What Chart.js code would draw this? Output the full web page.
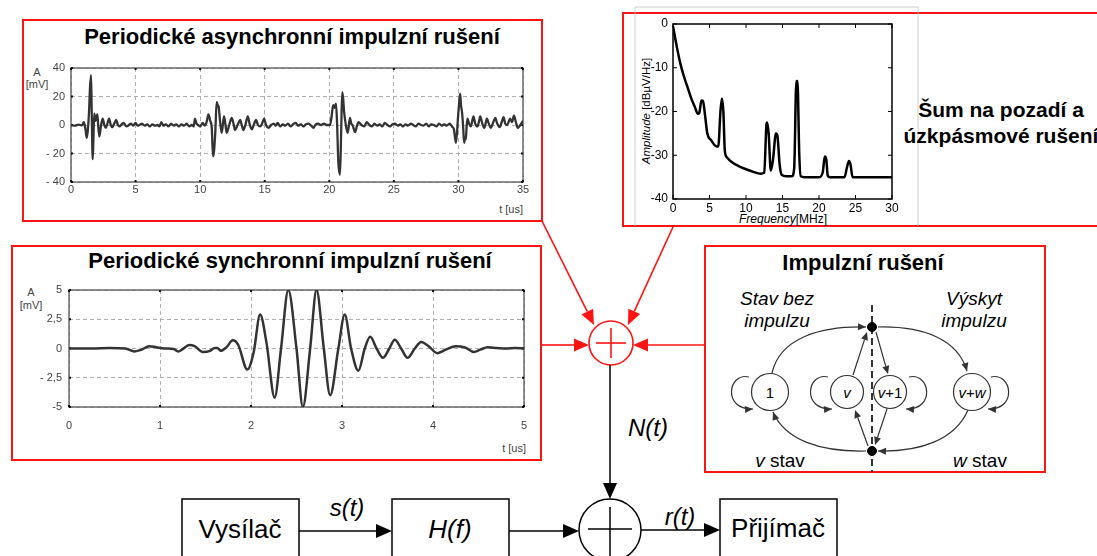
<!DOCTYPE html>
<html>
<head>
<meta charset="utf-8">
<title>Model rušení</title>
<script src="https://cdn.jsdelivr.net/npm/chart.js"></script>
<style>
  body { margin: 0; width: 1097px; height: 556px; overflow: hidden; background: #fff; position: relative;
         font-family: "Liberation Sans", Arial, sans-serif; }
  svg, canvas { position: absolute; }
</style>
</head>
<body>
<svg id="diagram" width="1097" height="556" style="left:0;top:0"></svg>
<canvas id="asyncChart" width="512" height="155" style="left:21px;top:60px"></canvas>
<canvas id="syncChart" width="522" height="165" style="left:12px;top:282px"></canvas>
<canvas id="specChart" width="275" height="214" style="left:625px;top:12px"></canvas>

<script>
  // ---- data ----
  // periodic asynchronous impulse noise: [t us, A mV]
  const asyncXTicks = [0, 5, 10, 15, 20, 25, 30, 35];
  const asyncXLabels = ['0', '5', '10', '15', '20', '25', '30', '35'];
  const asyncYTicks = [-40, -20, 0, 20, 40];
  const asyncYLabels = ['- 40', '- 20', '0', '20', '40'];
  const asyncPulse = [
    [0,0],[0.3,-0.5],[0.6,0.3],[0.85,-0.3],[1.0,2],[1.12,-3],[1.22,-9],[1.3,-4],[1.4,10],[1.47,26],
    [1.55,35],[1.6,12],[1.68,-24],[1.73,-12],[1.8,8],[1.9,3],[2.04,7.5],[2.12,-2],[2.2,-8],[2.3,-2],
    [2.45,4.5],[2.58,0],[2.7,-2],[2.82,1],[2.95,4.5],[3.08,0],[3.2,-1.5],[3.35,1],[3.5,3.5],[3.63,0],
    [3.76,-1],[3.92,0.5],[4.07,1.5],[4.2,0],[4.3,-1],[4.48,0],[4.65,1],[4.82,-0.5],[5.0,1.5],[5.15,-0.5],
    [5.3,0],[5.5,1],[5.7,-0.5],[5.9,0.5],[6.1,-1],[6.3,0.5],[6.5,-0.5],[6.7,0],[6.85,-1],[7.0,2],
    [7.15,-0.5],[7.35,0.5],[7.55,-1],[7.75,1],[7.95,-0.5],[8.15,0.5],[8.35,-1],[8.55,0.5],[8.75,-0.5],[8.95,1],
    [9.15,-1],[9.35,0],[9.5,-1],[9.6,4.5],[9.72,1],[9.85,0],[10.0,-1],[10.2,1.5],[10.35,-0.5],[10.5,2],
    [10.64,7.5],[10.78,3],[10.9,-2],[11.0,-22],[11.08,-18],[11.18,-4],[11.28,16],[11.36,14],[11.44,12.5],[11.55,2],
    [11.67,-5.5],[11.77,1],[11.85,6],[11.95,1],[12.06,-5.5],[12.25,0],[12.45,5],[12.58,1],[12.7,-3.5],[12.9,0],
    [13.1,3.5],[13.22,0],[13.35,-3.5],[13.5,0],[13.69,6],[13.85,0],[14.0,-3],[14.15,0],[14.33,3.5],[14.48,0],
    [14.64,-1],[14.8,1],[14.95,4.5],[15.1,0],[15.3,-2],[15.5,0],[15.7,1],[15.85,-0.5],[16.0,1.5],[16.2,-1],
    [16.4,0.5],[16.6,-0.5],[16.8,1],[17.0,-1],[17.2,0.5],[17.4,1.5],[17.6,-0.5],[17.8,0.5],[18.0,-1],[18.2,0.5],
    [18.4,1],[18.6,-0.5],[18.77,-2],[18.95,0.5],[19.15,1],[19.35,0],[19.6,1],[19.8,0],[20.06,0],[20.18,6],
    [20.3,14],[20.42,12],[20.52,15],[20.6,2],[20.7,-26],[20.83,-35],[20.92,-5],[21.0,23],[21.08,18],[21.14,10],
    [21.3,-1],[21.43,-5.5],[21.6,5],[21.7,1],[21.8,0],[22.0,-5],[22.13,-1],[22.26,2],[22.5,0],[22.7,-1],
    [22.9,2],[23.1,0],[23.3,-1],[23.5,1],[23.7,-0.5],[23.9,0.5],[24.1,-1],[24.3,1.5],[24.5,0],[24.7,-1],
    [24.9,0.5],[25.1,1],[25.3,-0.5],[25.5,0.5],[25.7,-1],[25.9,0.5],[26.1,-0.5],[26.3,1],[26.5,0],[26.7,-1],
    [26.9,1],[27.1,0],[27.3,-0.5],[27.5,1],[27.7,-1],[27.9,0.5],[28.1,0],[28.3,-1],[28.5,1],[28.7,-0.5],
    [28.9,0.5],[29.1,-0.5],[29.3,1],[29.5,-1],[29.65,-3],[29.8,-12.5],[29.9,-4],[29.95,3],[30.05,15],[30.13,22],
    [30.2,14],[30.29,8],[30.37,-2],[30.44,-12.5],[30.5,-9],[30.57,-10],[30.63,-2],[30.7,4.5],[30.82,1],[30.96,-1],
    [31.05,2],[31.17,6],[31.3,1],[31.48,-1],[31.58,2],[31.69,6],[31.85,1],[32.0,-2],[32.1,1],[32.2,4.5],
    [32.35,1],[32.5,-2],[32.7,2],[32.86,5],[33.0,1],[33.2,-1.5],[33.35,2],[33.5,5.5],[33.62,1],[33.76,0],
    [33.88,2],[34.0,4.5],[34.15,2],[34.3,6.5],[34.45,2],[34.6,-2],[34.7,-1],[34.8,0],[34.9,1.5],[35.0,3]
  ];

  // periodic synchronous impulse noise: [t us, A mV]
  const syncXTicks = [0, 1, 2, 3, 4, 5];
  const syncXLabels = ['0', '1', '2', '3', '4', '5'];
  const syncYTicks = [-5, -2.5, 0, 2.5, 5];
  const syncYLabels = ['-5', '- 2,5', '0', '2,5', '5'];
  const syncPulse = [
    [0,0],[0.25,0],[0.45,0.05],[0.62,0],[0.72,-0.25],[0.8,-0.1],[0.88,0.2],[0.96,0.1],[1.05,0],[1.15,-0.05],
    [1.2,-0.25],[1.25,-0.05],[1.32,0.3],[1.38,0.2],[1.47,-0.3],[1.55,-0.2],[1.6,0.05],[1.63,0.05],[1.67,-0.2],[1.73,0.1],
    [1.8,0.7],[1.86,0.3],[1.96,-1.8],[2.03,-0.3],[2.1,2.9],[2.17,0.5],[2.26,-4.2],[2.33,0],[2.41,5],[2.5,0],
    [2.57,-5],[2.65,0],[2.72,5],[2.8,0],[2.87,-4],[2.96,0],[3.03,2.9],[3.1,0],[3.18,-1.9],[3.25,0],
    [3.31,1.0],[3.38,0],[3.45,-0.8],[3.52,0],[3.58,0.75],[3.65,0],[3.72,-0.8],[3.8,0],[3.87,0.55],[3.95,0.2],
    [4.05,-0.4],[4.14,-0.1],[4.25,0.2],[4.35,0.1],[4.45,-0.3],[4.52,-0.1],[4.6,0.1],[4.7,0.05],[4.8,0],[4.9,0.05],
    [5,0]
  ];

  // background noise + narrow band interference spectrum: [f MHz, dBuV/Hz]
  const specXTicks = [0, 5, 10, 15, 20, 25, 30];
  const specXLabels = ['0', '5', '10', '15', '20', '25', '30'];
  const specYTicks = [-40, -30, -20, -10, 0];
  const specYLabels = ['-40', '-30', '-20', '-10', '0'];
  const specCurve = [
    [0,-0.5],[0.5,-5],[1,-9],[1.5,-12],[2,-14.5],[2.5,-17],[3,-19],[3.4,-20.5],[3.6,-20.3],[3.9,-17.5],
    [4.1,-17.6],[4.4,-21],[4.7,-25],[5.2,-26.5],[6.0,-28],[6.2,-28],[6.5,-20],[6.7,-17],[6.9,-20],[7.1,-29],
    [7.4,-30.5],[8,-31.5],[9,-32.5],[10,-33.2],[11,-33.8],[12,-34.2],[12.5,-34],[12.8,-23],[12.9,-22.5],[13.1,-25],
    [13.4,-33.5],[13.7,-31],[14.1,-25],[14.3,-25.5],[14.6,-32],[14.9,-34.5],[15.5,-34.8],[16.3,-34.8],[16.6,-33],[16.9,-13],
    [17.05,-13],[17.3,-30],[17.5,-34.8],[18,-35],[20,-35],[20.5,-34],[20.8,-30.3],[21.0,-31],[21.2,-34.7],[21.5,-35],
    [23.5,-35],[23.8,-33],[24.1,-31.3],[24.3,-32],[24.6,-35],[25,-35],[30,-35]
  ];

  // draws the box round the plot and the small tick marks on its edges
  const framePlugin = {
    id: 'frame',
    beforeDatasetsDraw(chart, args, o) {
      const { ctx, chartArea: a, scales } = chart;
      ctx.save();
      ctx.strokeStyle = o.color;
      ctx.lineWidth = o.width;
      ctx.strokeRect(a.left, a.top, a.right - a.left, a.bottom - a.top);
      ctx.strokeStyle = o.tickColor;
      ctx.lineWidth = o.tickWidth;
      ctx.beginPath();
      scales.x.ticks.forEach(t => {
        const x = scales.x.getPixelForValue(t.value);
        ctx.moveTo(x, a.top); ctx.lineTo(x, a.top + o.tickLen);
        ctx.moveTo(x, a.bottom); ctx.lineTo(x, a.bottom - o.tickLen);
      });
      scales.y.ticks.forEach(t => {
        const y = scales.y.getPixelForValue(t.value);
        ctx.moveTo(a.left, y); ctx.lineTo(a.left + o.tickLen, y);
        ctx.moveTo(a.right, y); ctx.lineTo(a.right - o.tickLen, y);
      });
      ctx.stroke();
      ctx.restore();
    }
  };

  function makeChart(id, pts, o) {
    return new Chart(document.getElementById(id), {
      type: 'line',
      data: {
        datasets: [{
          data: pts.map(p => ({ x: p[0], y: p[1] })),
          borderColor: o.lineColor,
          borderWidth: o.lineWidth,
          pointRadius: 0,
          cubicInterpolationMode: 'monotone',
          fill: false
        }]
      },
      options: {
        responsive: false,
        animation: false,
        events: [],
        layout: { padding: o.pad },
        plugins: { legend: { display: false }, tooltip: { enabled: false }, frame: o.frame },
        scales: {
          x: {
            type: 'linear', min: o.xTicks[0], max: o.xTicks[o.xTicks.length - 1],
            afterBuildTicks: s => { s.ticks = o.xTicks.map(v => ({ value: v })); },
            afterFit: s => { s.height = o.xh; s.paddingLeft = 0; s.paddingRight = 0; },
            grid: { display: o.grid, drawTicks: false, color: '#b0b0b0', lineWidth: 1 },
            border: { display: false, dash: [4, 3] },
            ticks: { padding: o.xPad, maxRotation: 0, autoSkip: false, color: o.tickColor,
                     font: { family: 'Liberation Sans', size: o.fontSize }, callback: (v, i) => o.xLabels[i] }
          },
          y: {
            type: 'linear', min: o.yTicks[0], max: o.yTicks[o.yTicks.length - 1],
            afterBuildTicks: s => { s.ticks = o.yTicks.map(v => ({ value: v })); },
            afterFit: s => { s.width = o.yw; s.paddingTop = 0; s.paddingBottom = 0; },
            grid: { display: o.grid, drawTicks: false, color: '#b0b0b0', lineWidth: 1 },
            border: { display: false, dash: [4, 3] },
            ticks: { padding: o.yPad, autoSkip: false, color: o.tickColor,
                     font: { family: 'Liberation Sans', size: o.fontSize }, callback: (v, i) => o.yLabels[i] }
          }
        }
      },
      plugins: [framePlugin]
    });
  }

  const waveFrame = { color: '#6a6a6a', width: 1.5, tickColor: '#111', tickWidth: 2, tickLen: 2 };

  makeChart('asyncChart', asyncPulse, {
    lineColor: '#333', lineWidth: 2.3, pad: { top: 8, right: 10, left: 0, bottom: 0 },
    xTicks: asyncXTicks, xLabels: asyncXLabels, yTicks: asyncYTicks, yLabels: asyncYLabels,
    xh: 33, yw: 50, xPad: 1, yPad: 6, grid: true, tickColor: '#444', fontSize: 11, frame: waveFrame
  });

  makeChart('syncChart', syncPulse, {
    lineColor: '#333', lineWidth: 2.5, pad: { top: 8, right: 10, left: 0, bottom: 0 },
    xTicks: syncXTicks, xLabels: syncXLabels, yTicks: syncYTicks, yLabels: syncYLabels,
    xh: 40, yw: 57, xPad: 12, yPad: 7, grid: true, tickColor: '#444', fontSize: 11, frame: waveFrame
  });

  makeChart('specChart', specCurve, {
    lineColor: '#000', lineWidth: 2.5, pad: { top: 12, right: 8, left: 0, bottom: 0 },
    xTicks: specXTicks, xLabels: specXLabels, yTicks: specYTicks, yLabels: specYLabels,
    xh: 27, yw: 48, xPad: 2, yPad: 5, grid: false, tickColor: '#000', fontSize: 12,
    frame: { color: '#000', width: 1.5, tickColor: '#000', tickWidth: 1, tickLen: 4 }
  });

  // ---- block diagram (svg) ----
  const parts = [];
  const RED = '#ff1414';

  function ln(x1, y1, x2, y2, c, w, dash) {
    parts.push(`<line x1="${x1}" y1="${y1}" x2="${x2}" y2="${y2}" stroke="${c}" stroke-width="${w}"${dash ? ` stroke-dasharray="${dash}"` : ''}/>`);
  }
  function head(fx, fy, tx, ty, c, len, hw) {
    const d = Math.hypot(tx - fx, ty - fy), ux = (tx - fx) / d, uy = (ty - fy) / d;
    const bx = tx - ux * len, by = ty - uy * len;
    parts.push(`<polygon points="${tx},${ty} ${bx - uy * hw},${by + ux * hw} ${bx + uy * hw},${by - ux * hw}" fill="${c}"/>`);
    return [bx, by];
  }
  function arrow(x1, y1, x2, y2, c, w, len, hw) {
    const [bx, by] = head(x1, y1, x2, y2, c, len, hw);
    ln(x1, y1, bx, by, c, w);
  }
  function curve(d, cx, cy, ex, ey, c, w, len, hw) {
    parts.push(`<path d="${d}" fill="none" stroke="${c}" stroke-width="${w}"/>`);
    if (len) head(cx, cy, ex, ey, c, len, hw);
  }
  function rect(x, y, w, h, c, sw) {
    parts.push(`<rect x="${x}" y="${y}" width="${w}" height="${h}" fill="none" stroke="${c}" stroke-width="${sw}"/>`);
  }
  function circ(cx, cy, r, c, sw, fill) {
    parts.push(`<circle cx="${cx}" cy="${cy}" r="${r}" fill="${fill || 'none'}" stroke="${c}" stroke-width="${sw}"/>`);
  }
  function txt(x, y, s, size, opt = {}) {
    parts.push(`<text x="${x}" y="${y}" font-size="${size}" text-anchor="${opt.anchor || 'middle'}" dominant-baseline="central"` +
      ` font-weight="${opt.bold ? 'bold' : 'normal'}" font-style="${opt.italic ? 'italic' : 'normal'}" fill="${opt.color || '#000'}"` +
      `${opt.rot ? ` transform="rotate(${opt.rot} ${x} ${y})"` : ''}>${s}</text>`);
  }

  // red frames
  rect(23, 20, 519, 201, RED, 2);
  rect(12, 246, 529, 214, RED, 2);
  rect(705, 246, 340, 226, RED, 2);
  parts.push(`<path d="M1100 13 H623 V226 H1100" fill="none" stroke="${RED}" stroke-width="2"/>`);
  // grey frame of the spectrum figure
  parts.push(`<path d="M635 226 V7 H918 V226" fill="none" stroke="#cfcfcf" stroke-width="1"/>`);

  // titles and axis captions
  txt(292, 36, 'Periodické asynchronní impulzní rušení', 22, { bold: true });
  txt(290, 260, 'Periodické synchronní impulzní rušení', 22, { bold: true });
  txt(863, 262, 'Impulzní rušení', 22, { bold: true });
  txt(1001, 109, 'Šum na pozadí a', 21, { bold: true });
  txt(1001, 135, 'úzkpásmové rušení', 21, { bold: true });
  txt(37, 72, 'A', 11, { color: '#444' });
  txt(37, 84, '[mV]', 11, { color: '#444' });
  txt(523, 209, 't [us]', 11, { anchor: 'end', color: '#444' });
  txt(31, 292, 'A', 11, { color: '#444' });
  txt(31, 305, '[mV]', 11, { color: '#444' });
  txt(526, 448, 't [us]', 11, { anchor: 'end', color: '#444' });
  txt(783, 219, '<tspan font-style="italic">Frequency</tspan>[MHz]', 12);
  txt(646, 111, '<tspan font-style="italic">Amplitude</tspan>  [dBµV/Hz]', 11.5, { rot: -90 });

  // red summing node and its inputs
  arrow(542, 221, 594, 325, RED, 1.6, 15, 6.5);
  arrow(673, 227, 628, 325, RED, 1.6, 15, 6.5);
  arrow(542, 345, 589, 345, RED, 1.6, 15, 6.5);
  arrow(705, 345, 633, 345, RED, 1.6, 15, 6.5);
  circ(611, 343, 22, RED, 1.6);
  ln(596, 343, 626, 343, RED, 1.6);
  ln(611, 328, 611, 358, RED, 1.6);

  // main channel
  arrow(610, 365, 610, 499, '#000', 1.5, 16, 7);
  txt(648, 427, 'N(t)', 24, { italic: true });
  circ(610, 530, 31, '#000', 1.5);
  ln(588, 529, 632, 529, '#000', 1.5);
  ln(610, 507, 610, 556, '#000', 1.5);
  rect(182, 499, 117, 70, '#000', 1.5);
  rect(392, 499, 117, 70, '#000', 1.5);
  rect(720, 499, 117, 70, '#000', 1.5);
  txt(240, 529, 'Vysílač', 26);
  txt(450, 529, 'H(f)', 26, { italic: true });
  txt(778, 528, 'Přijímač', 26);
  arrow(299, 531, 392, 531, '#000', 1.5, 16, 7);
  arrow(509, 531, 579, 531, '#000', 1.5, 16, 7);
  arrow(641, 530, 720, 530, '#000', 1.5, 16, 7);
  txt(347, 507, 's(t)', 24, { italic: true });
  txt(680, 516, 'r(t)', 24, { italic: true });

  // Markov model of impulse noise
  const G = '#333';
  txt(777, 298, 'Stav bez', 19, { italic: true });
  txt(777, 320, 'impulzu', 19, { italic: true });
  txt(974, 298, 'Výskyt', 19, { italic: true });
  txt(974, 320, 'impulzu', 19, { italic: true });
  txt(780, 460, '<tspan font-style="italic">v</tspan> stav', 19);
  txt(980, 460, '<tspan font-style="italic">w</tspan> stav', 19);
  ln(872, 305, 872, 472, '#000', 1.6, '7,4');
  circ(770, 392, 18.5, G, 1.2);
  circ(847, 392, 16.5, G, 1.2);
  circ(890, 392, 16.5, G, 1.2);
  circ(972, 392, 18.5, G, 1.2);
  txt(770, 392, '1', 15);
  txt(847, 392, 'v', 15, { italic: true });
  txt(890, 392, '<tspan font-style="italic">v</tspan>+1', 15);
  txt(972, 392, '<tspan font-style="italic">v</tspan>+<tspan font-style="italic">w</tspan>', 15);
  circ(872, 327, 4.5, '#000', 1, '#000');
  circ(872, 451, 4.5, '#000', 1, '#000');
  curve('M772 373 C780 338 820 326 866 327', 840, 326, 866, 327, G, 1.2, 8, 3.5);
  curve('M878 327 C925 326 958 340 967 371', 960, 345, 967, 371, G, 1.2, 8, 3.5);
  curve('M968 410 C955 440 920 452 878 451', 905, 452, 878, 451, G, 1.2, 8, 3.5);
  curve('M866 451 C820 452 785 440 773 412', 780, 430, 773, 412, G, 1.2, 8, 3.5);
  arrow(853, 375, 867, 332, G, 1.2, 8, 3.5);
  arrow(876, 332, 888, 374, G, 1.2, 8, 3.5);
  arrow(887, 409, 875, 445, G, 1.2, 8, 3.5);
  arrow(868, 446, 855, 410, G, 1.2, 8, 3.5);
  curve('M749 377 C728 372 722 410 753 409', 740, 410, 753, 409, G, 1.2, 8, 3.5);
  curve('M828 377 C807 372 801 410 832 409', 819, 410, 832, 409, G, 1.2, 8, 3.5);
  curve('M909 377 C930 372 936 410 906 409', 919, 410, 906, 409, G, 1.2, 8, 3.5);
  curve('M991 377 C1012 372 1018 410 988 409', 1001, 410, 988, 409, G, 1.2, 8, 3.5);

  const svgEl = document.getElementById('diagram');
  svgEl.setAttribute('font-family', 'Liberation Sans, Arial, sans-serif');
  svgEl.innerHTML = parts.join('');
</script>
</body>
</html>
